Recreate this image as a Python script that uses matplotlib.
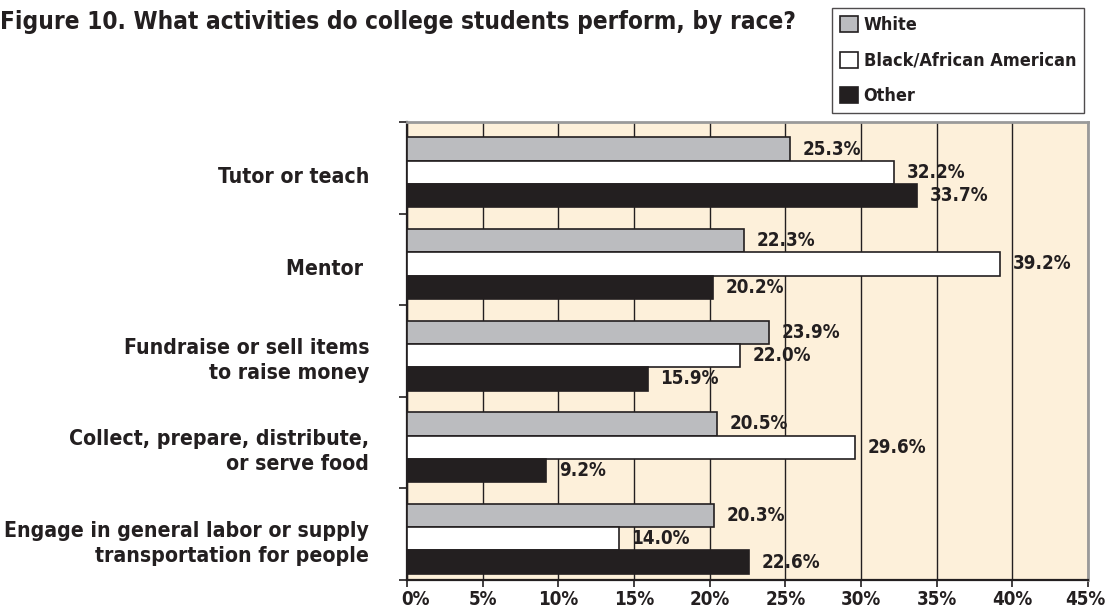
import matplotlib
matplotlib.use('Agg')
import matplotlib.pyplot as plt
import matplotlib.transforms as mtransforms
from matplotlib.patches import Patch
import numpy as np

plt.rcParams['font.family'] = ['DejaVu Sans']
plt.rcParams['font.weight'] = 'bold'
plt.rcParams['font.stretch'] = 'condensed'

categories = ['Tutor or teach', 'Mentor ', 'Fundraise or sell items\nto raise money',
              'Collect, prepare, distribute,\nor serve food',
              'Engage in general labor or supply\ntransportation for people']
series = ['White', 'Black/African American', 'Other']
white = [25.3, 22.3, 23.9, 20.5, 20.3]
black_aa = [32.2, 39.2, 22.0, 29.6, 14.0]
other = [33.7, 20.2, 15.9, 9.2, 22.6]
xticks = [0, 5, 10, 15, 20, 25, 30, 35, 40, 45]

ink = '#231f20'
colors = ['#bbbcbf', '#ffffff', ink]
bg = '#fdf0da'

fig = plt.figure(figsize=(11.08, 6.09), dpi=100)
ax = fig.add_axes([407/1108, 1-580/609, (1088-407)/1108, (580-122)/609])
ax.set_facecolor(bg)

y = np.arange(len(categories))
h = 0.255
offsets = [-0.205, 0.05, 0.305]
for vals, off, c in zip([white, black_aa, other], offsets, colors):
    bars = ax.barh(y + off, vals, height=h, color=c, edgecolor=ink, linewidth=1.2, zorder=3)
    for b, v in zip(bars, vals):
        ax.annotate(f'{v:.1f}%', (v, b.get_y() + b.get_height()/2), xytext=(9, 0),
                    textcoords='offset points', va='center', ha='left',
                    fontsize=13.5, color=ink, fontweight='bold', zorder=4)

ax.set_xlim(0, 45)
ax.set_ylim(len(categories) - 0.5, -0.5)
ax.set_xticks(xticks)
ax.set_xticklabels([f'{t}%' for t in xticks], fontsize=13.5, color=ink, fontweight='bold')
ax.xaxis.grid(True, color=ink, linewidth=1, zorder=1)
ax.set_axisbelow(True)
ax.tick_params(axis='x', direction='out', length=5, width=1.2, color=ink, pad=2)

# nudge the end labels inward like the original
tl = ax.get_xticklabels()
tl[0].set_transform(tl[0].get_transform() + mtransforms.ScaledTranslation(8/100, 0, fig.dpi_scale_trans))
tl[-1].set_transform(tl[-1].get_transform() + mtransforms.ScaledTranslation(-3/100, 0, fig.dpi_scale_trans))

ax.set_yticks(np.arange(len(categories) + 1) - 0.5)
ax.set_yticklabels([])
ax.tick_params(axis='y', direction='out', length=6, width=1.2, color=ink)
for i, cat in enumerate(categories):
    ax.text(-2.5, i + 0.1, cat, ha='right', va='center', fontsize=15.2,
            color=ink, fontweight='bold', linespacing=1.3)

for s in ['left', 'bottom']:
    ax.spines[s].set_color(ink)
    ax.spines[s].set_linewidth(1.6)
for s in ['top', 'right']:
    ax.spines[s].set_color('#9a9a9a')
    ax.spines[s].set_linewidth(2)

fig.text(0.0, 1 - 22/609, 'Figure 10. What activities do college students perform, by race?',
         ha='left', va='center', fontsize=17.5, color=ink, fontweight='bold')

handles = [Patch(facecolor=c, edgecolor=ink, linewidth=1.2) for c in colors]
leg = fig.legend(handles, series, loc='upper left', bbox_to_anchor=(832/1108, 1 - 8/609),
                 frameon=True, fancybox=False, borderaxespad=0, handlelength=1.0,
                 handleheight=1.0, handletextpad=0.3, labelspacing=0.95,
                 borderpad=0.45, prop={'size': 13, 'weight': 'bold', 'stretch': 'condensed'})
leg.get_frame().set_edgecolor(ink)
leg.get_frame().set_linewidth(1)
for t in leg.get_texts():
    t.set_color(ink)

fig.savefig('out.png', dpi=100)
